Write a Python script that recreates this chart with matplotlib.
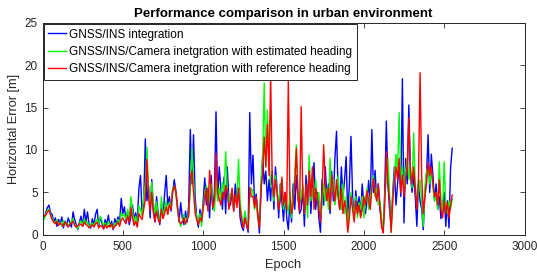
import numpy as np
import matplotlib
matplotlib.use("Agg")
import matplotlib.pyplot as plt

# Epochs sampled every 10
epochs = np.arange(10, 2551, 10)

gnss_ins = [
    2.0, 2.6, 3.2, 3.5, 2.6, 2.4, 1.5, 2.0, 1.0, 1.8,
    1.3, 2.1, 0.8, 1.6, 1.1, 2.0, 1.4, 0.9, 2.7, 1.8,
    1.2, 0.6, 1.5, 2.2, 1.0, 3.0, 1.5, 2.7, 1.2, 0.8,
    1.9, 1.1, 2.4, 3.0, 1.0, 2.0, 1.4, 0.7, 1.8, 1.2,
    2.3, 1.0, 1.6, 0.6, 1.9, 1.3, 2.1, 1.5, 4.3, 2.5,
    3.3, 1.5, 2.8, 1.2, 2.2, 3.5, 1.8, 2.6, 1.4, 5.5,
    7.0, 2.5, 3.8, 11.3, 4.0, 5.8, 2.0, 6.5, 3.0, 1.5,
    4.5, 2.5, 1.2, 3.5, 2.0, 4.8, 7.0, 3.5, 4.5, 2.8,
    5.0, 6.5, 5.2, 3.5, 1.5, 3.8, 2.0, 1.2, 2.8, 1.5,
    3.5, 12.4, 6.0, 11.8, 4.5, 2.0, 0.9, 3.0, 1.5, 4.0,
    6.7, 3.5, 5.5, 2.0, 7.0, 3.0, 5.0, 14.5, 4.0, 8.0,
    5.5, 3.0, 6.8, 2.5, 8.0, 4.2, 3.5, 5.2, 2.8, 6.0,
    4.0, 5.5, 2.0, 1.0, 0.5, 2.5, 1.2, 0.3, 14.4, 6.0,
    9.4, 3.5, 4.8, 2.5, 0.2, 5.0, 9.3, 6.0, 7.5, 4.0,
    6.5, 4.0, 7.5, 3.0, 8.0, 5.5, 2.0, 6.0, 4.0, 1.6,
    5.0, 2.0, 0.6, 4.0, 1.5, 6.0, 3.0, 7.0, 4.5, 2.5,
    3.0, 5.5, 1.0, 7.0, 4.0, 8.0, 2.5, 6.0, 8.5, 3.0,
    5.0, 2.0, 0.3, 6.5, 3.5, 8.0, 4.5, 6.0, 2.5, 7.5,
    4.0, 9.0, 12.2, 5.0, 3.0, 8.0, 4.5, 6.5, 9.2, 2.0,
    6.0, 11.6, 4.5, 2.0, 5.2, 3.0, 4.5, 2.5, 6.0, 3.5,
    2.5, 4.0, 6.4, 3.5, 12.4, 5.0, 7.6, 4.0, 6.0, 3.0,
    1.5, 0.3, 5.0, 13.4, 6.0, 3.0, 1.0, 5.0, 8.0, 3.5,
    6.0, 8.5, 4.5, 18.4, 1.4, 9.0, 6.0, 15.3, 7.0, 5.0,
    7.0, 4.5, 1.0, 6.0, 4.0, 3.0, 0.6, 5.0, 7.0, 11.8,
    5.0, 9.5, 7.0, 4.0, 6.0, 3.0, 4.5, 1.9, 3.5, 5.0,
    1.0, 4.0, 0.8, 7.9, 10.2,
]

cam_est = [
    1.8, 2.4, 2.9, 3.0, 2.4, 2.0, 1.6, 1.4, 1.8, 1.2,
    1.5, 1.0, 1.7, 1.2, 1.4, 1.1, 1.3, 1.6, 1.9, 1.2,
    1.0, 0.7, 1.4, 1.6, 1.2, 1.9, 1.3, 1.5, 0.9, 1.2,
    1.4, 1.0, 1.6, 1.8, 1.2, 2.2, 1.7, 1.1, 1.4, 0.9,
    1.6, 1.2, 1.0, 0.8, 1.4, 1.1, 1.8, 1.3, 2.6, 2.2,
    2.4, 1.8, 3.0, 1.6, 4.5, 2.8, 1.5, 2.2, 1.2, 3.4,
    3.0, 2.2, 4.5, 6.0, 10.3, 5.0, 3.2, 6.2, 3.8, 2.5,
    3.9, 2.0, 1.5, 4.5, 2.2, 3.0, 4.0, 2.6, 3.8, 3.2,
    5.5, 5.8, 4.8, 3.0, 1.8, 1.0, 1.6, 2.4, 1.2, 2.0,
    2.5, 5.0, 10.2, 6.5, 3.0, 2.2, 1.5, 2.5, 1.0, 3.5,
    5.0, 5.8, 3.2, 4.5, 6.0, 3.5, 2.8, 6.5, 4.0, 5.5,
    4.0, 6.2, 5.0, 9.8, 5.5, 3.5, 4.8, 5.0, 3.0, 4.5,
    3.8, 8.9, 4.0, 2.2, 1.0, 2.8, 1.5, 0.8, 4.5, 5.5,
    5.0, 3.0, 4.0, 2.0, 1.0, 6.5, 9.0, 17.9, 8.0, 14.7,
    8.5, 6.0, 5.5, 4.0, 7.0, 5.0, 3.5, 5.5, 6.5, 3.0,
    4.0, 3.5, 2.5, 5.0, 2.0, 4.5, 7.0, 10.6, 5.0, 3.5,
    4.5, 6.0, 3.0, 5.0, 2.0, 9.4, 4.0, 5.5, 3.5, 6.5,
    4.0, 5.0, 2.0, 3.5, 6.0, 4.0, 5.5, 3.0, 9.0, 5.0,
    6.5, 3.5, 5.0, 7.0, 4.0, 3.0, 6.0, 2.5, 4.5, 1.0,
    3.0, 5.0, 3.5, 2.5, 4.5, 2.0, 3.8, 3.0, 4.5, 2.0,
    4.0, 5.5, 3.0, 4.5, 6.0, 7.0, 4.5, 5.5, 3.5, 4.0,
    2.0, 0.5, 4.5, 6.5, 9.0, 5.0, 0.3, 4.5, 7.0, 9.5,
    7.5, 14.4, 6.0, 8.0, 5.0, 7.5, 9.0, 6.5, 8.0, 5.5,
    12.0, 6.0, 3.5, 5.0, 6.5, 4.0, 1.0, 5.5, 7.5, 8.0,
    6.0, 7.5, 5.5, 4.0, 4.5, 3.0, 8.6, 4.0, 2.5, 8.6,
    3.5, 2.5, 4.0, 3.0, 4.2,
]

cam_ref = [
    2.2, 2.3, 2.7, 2.9, 2.3, 1.8, 1.5, 1.3, 1.6, 1.1,
    1.4, 1.2, 1.0, 1.5, 1.3, 0.9, 1.2, 1.4, 1.6, 1.1,
    0.9, 1.1, 1.3, 1.2, 1.0, 1.5, 1.2, 1.1, 0.8, 1.0,
    1.2, 0.9, 1.3, 1.5, 0.8, 1.1, 1.0, 0.7, 1.2, 0.8,
    1.1, 0.9, 1.3, 0.7, 1.0, 1.2, 1.5, 1.0, 1.8, 2.0,
    1.6, 1.3, 2.2, 1.5, 3.2, 2.0, 1.1, 1.6, 0.9, 2.5,
    2.1, 1.8, 3.0, 4.2, 8.9, 4.5, 2.8, 5.0, 2.6, 1.6,
    2.8, 1.8, 1.4, 3.0, 1.9, 2.5, 3.3, 2.4, 3.5, 3.0,
    5.2, 5.8, 5.0, 3.2, 1.7, 1.3, 1.5, 2.0, 1.3, 1.8,
    2.2, 6.7, 7.5, 5.0, 2.5, 1.8, 1.2, 2.0, 1.6, 3.0,
    4.5, 5.5, 2.8, 7.6, 5.0, 3.2, 4.0, 9.6, 5.0, 4.2,
    3.5, 5.0, 4.2, 5.8, 5.2, 3.0, 4.0, 5.5, 2.8, 4.8,
    3.2, 5.5, 3.0, 1.8, 0.8, 2.0, 1.2, 0.6, 5.6, 4.5,
    4.5, 3.2, 4.5, 2.2, 0.8, 5.5, 7.0, 11.5, 8.0, 13.0,
    7.0, 18.9, 6.0, 4.5, 6.5, 5.0, 3.0, 4.0, 6.8, 3.5,
    5.0, 3.0, 18.1, 4.5, 2.5, 3.5, 6.0, 10.2, 4.5, 2.8,
    15.1, 5.0, 2.5, 6.0, 3.5, 7.5, 4.5, 8.0, 3.0, 5.5,
    4.5, 3.0, 1.5, 5.0, 10.6, 6.0, 4.0, 5.5, 3.0, 7.0,
    5.5, 4.0, 6.5, 4.5, 3.0, 5.5, 2.5, 4.0, 3.0, 0.3,
    2.0, 4.5, 3.0, 1.5, 4.0, 2.5, 3.5, 2.0, 3.0, 4.5,
    3.5, 5.2, 4.0, 3.0, 5.5, 6.6, 5.0, 4.0, 6.0, 3.5,
    1.0, 0.2, 3.5, 9.8, 6.0, 4.0, 0.3, 4.0, 6.5, 8.0,
    6.5, 9.0, 5.0, 7.0, 4.5, 6.5, 8.0, 13.8, 7.5, 6.0,
    8.0, 5.5, 3.0, 6.5, 19.1, 7.0, 2.5, 4.5, 6.0, 8.5,
    7.0, 8.0, 6.0, 4.5, 5.0, 3.5, 6.5, 3.0, 2.0, 4.0,
    2.5, 3.8, 2.0, 3.5, 4.7,
]

labels = [
    "GNSS/INS integration",
    "GNSS/INS/Camera inetgration with estimated heading",
    "GNSS/INS/Camera inetgration with reference heading",
]
colors = ["#0000ff", "#00ff00", "#ff0000"]
xticks = [0, 500, 1000, 1500, 2000, 2500, 3000]
yticks = [0, 5, 10, 15, 20, 25]

plt.rcParams['font.family'] = ['Liberation Sans', 'DejaVu Sans']
axc = '#262626'

fig = plt.figure(figsize=(5.37, 2.72), dpi=100)
ax = fig.add_axes([42.5/537, (272-234.8)/272, (524.5-42.5)/537, (234.8-22.7)/272])

for ys, c, lab in zip([gnss_ins, cam_est, cam_ref], colors, labels):
    ax.plot(epochs, ys, color=c, lw=1.0, label=lab)

ax.set_xlim(0, 3000)
ax.set_ylim(0, 25)
ax.set_xticks(xticks)
ax.set_yticks(yticks)
ax.tick_params(direction='in', top=True, right=True, length=3.5, width=0.6,
               labelsize=8.5, colors=axc, pad=3.5)
ax.tick_params(axis='x', pad=4.5)
for s in ax.spines.values():
    s.set_color(axc)
    s.set_linewidth(0.7)

ax.set_xlabel("Epoch", fontsize=9.2, color=axc, labelpad=4)
ax.set_ylabel("Horizontal Error [m]", fontsize=9.2, color=axc, labelpad=3)
ax.set_title("Performance comparison in urban environment", fontsize=9.5,
             fontweight='bold', color='black', pad=4)

leg = ax.legend(loc='upper left', fontsize=8.5, frameon=True, fancybox=False,
                framealpha=1, edgecolor=axc, borderaxespad=0.1, borderpad=0.4,
                labelspacing=0.45, handlelength=1.45, handletextpad=0.3)
leg.get_frame().set_linewidth(0.7)

fig.savefig("out.png", dpi=100)
